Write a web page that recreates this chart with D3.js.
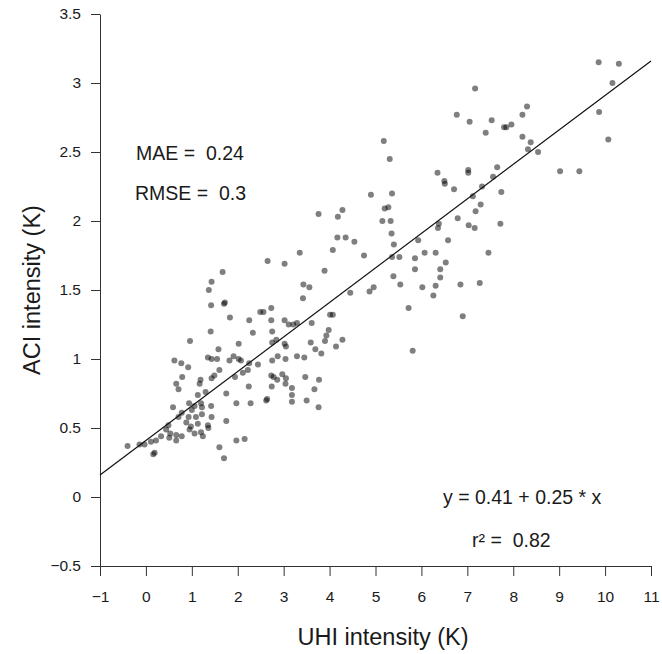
<!DOCTYPE html>
<html>
<head>
<meta charset="utf-8">
<script src="https://cdn.jsdelivr.net/npm/d3@7"></script>
<style>
  body { margin: 0; background: #fff; }
  svg text { font-family: "Liberation Sans", Arial, sans-serif; fill: #1a1a1a; }
  .axis path, .axis line { stroke: #333; stroke-width: 1; }
  .axis text { font-size: 15.5px; }
  .note { font-size: 19.5px; white-space: pre; }
  .title { font-size: 23.5px; }
</style>
</head>
<body>
<svg id="chart"></svg>
<script>
// UHI intensity (K)
var uhi = [
  // dense cluster, x < 1.5
  1.42, 1.41, 0.96, 0.62, 0.77, 0.92, 1.35, 1.43, 0.79, 1.19,
  1.17, 0.66, 0.71, 1.43, 1.30, 1.13, 0.59, 0.94, 1.06, 1.20,
  1.22, 1.42, 1.00, 0.78, 0.71, 0.93, 1.09, 1.22, 1.43, 0.88,
  0.98, 1.13, 1.35, 0.49, 0.44, 0.53, 0.66, 0.78, 0.95, 1.06,
  1.20, 1.24, 0.33, 0.22, 0.11, 0.66, 0.51, -0.14, -0.03, -0.40,
  0.19, 0.16, 1.36,
  // 1.5 - 3
  2.65, 3.02, 1.67, 1.43, 1.37, 1.70, 1.72, 1.83, 2.25, 2.49,
  2.56, 2.73, 2.73, 3.02, 2.33, 2.75, 2.75, 2.84, 3.02, 3.05,
  2.02, 1.58, 1.91, 2.02, 2.07, 1.82, 2.25, 2.44, 2.75, 2.87,
  3.04, 1.55, 1.60, 1.49, 1.94, 2.11, 2.22, 2.73, 2.78, 2.86,
  2.97, 3.05, 2.74, 3.04, 2.24, 1.75, 2.62, 2.64, 2.28, 1.97,
  1.75, 1.97, 2.15, 1.60, 1.70,
  // 3 - 4
  3.76, 4.07, 3.35, 3.89, 3.43, 3.56, 3.42, 3.11, 3.21, 3.29,
  3.61, 4.01, 4.07, 3.98, 3.93, 3.59, 3.69, 3.82, 3.45, 3.29,
  3.77, 3.67, 3.50, 3.76, 3.47, 3.18, 3.18, 3.18, 3.90,
  // 4 - 7
  5.18, 5.31, 6.35, 6.50, 6.51, 6.71, 4.90, 5.36, 5.20, 5.28,
  5.15, 5.33, 4.28, 4.18, 6.79, 5.35, 6.38, 6.36, 4.17, 4.35,
  4.54, 6.58, 5.93, 5.40, 4.75, 5.36, 5.52, 6.07, 6.31, 5.86,
  6.53, 6.41, 5.86, 6.41, 5.39, 5.54, 6.31, 6.02, 4.96, 4.87,
  4.45, 6.26, 5.72, 4.28, 4.14, 5.81,
  // > 7
  7.17, 6.77, 7.05, 7.53, 8.30, 8.20, 7.40, 7.80, 7.85, 7.96,
  8.20, 8.38, 8.32, 8.54, 9.02, 9.44, 7.02, 7.02, 7.65, 7.56,
  7.32, 7.74, 7.12, 7.29, 7.18, 7.03, 7.16, 7.72, 7.46, 6.85,
  7.27, 6.90, 9.86, 10.30, 10.16, 9.87, 10.07
];

// ACI intensity (K), same order as uhi
var aci = [
  1.39, 1.20, 1.13, 0.99, 0.97, 0.94, 1.01, 1.00, 0.87, 0.85,
  0.82, 0.82, 0.78, 0.86, 0.76, 0.74, 0.65, 0.68, 0.66, 0.68,
  0.65, 0.66, 0.63, 0.61, 0.58, 0.58, 0.58, 0.60, 0.58, 0.54,
  0.51, 0.53, 0.52, 0.52, 0.49, 0.46, 0.45, 0.44, 0.49, 0.46,
  0.47, 0.44, 0.44, 0.41, 0.40, 0.41, 0.43, 0.38, 0.38, 0.37,
  0.32, 0.31, 0.50,

  1.71, 1.69, 1.63, 1.56, 1.50, 1.40, 1.41, 1.30, 1.28, 1.34,
  1.34, 1.37, 1.28, 1.28, 1.19, 1.20, 1.12, 1.14, 1.11, 1.09,
  1.11, 1.07, 1.02, 1.00, 0.99, 0.99, 0.97, 0.96, 0.99, 1.02,
  1.00, 1.00, 0.92, 0.88, 0.87, 0.90, 0.92, 0.88, 0.87, 0.85,
  0.89, 0.86, 0.80, 0.82, 0.80, 0.75, 0.70, 0.71, 0.68, 0.68,
  0.55, 0.41, 0.42, 0.36, 0.28,

  2.05, 1.79, 1.77, 1.64, 1.54, 1.52, 1.44, 1.25, 1.25, 1.26,
  1.26, 1.32, 1.32, 1.21, 1.17, 1.12, 1.07, 1.04, 1.01, 1.02,
  0.85, 0.78, 0.70, 0.65, 0.87, 0.69, 0.74, 0.79, 1.13,

  2.58, 2.45, 2.35, 2.29, 2.27, 2.23, 2.19, 2.20, 2.09, 2.10,
  2.00, 2.00, 2.08, 2.03, 2.02, 1.91, 1.98, 1.95, 1.88, 1.88,
  1.85, 1.86, 1.86, 1.83, 1.75, 1.74, 1.74, 1.77, 1.77, 1.73,
  1.70, 1.65, 1.65, 1.59, 1.60, 1.54, 1.53, 1.52, 1.52, 1.49,
  1.48, 1.46, 1.37, 1.14, 1.09, 1.06,

  2.96, 2.77, 2.72, 2.73, 2.83, 2.77, 2.64, 2.68, 2.68, 2.70,
  2.61, 2.57, 2.52, 2.50, 2.36, 2.36, 2.37, 2.35, 2.39, 2.32,
  2.25, 2.21, 2.18, 2.12, 2.07, 1.97, 1.95, 1.98, 1.77, 1.54,
  1.55, 1.31, 3.15, 3.14, 3.00, 2.79, 2.59
];

var xTicks = [-1, 0, 1, 2, 3, 4, 5, 6, 7, 8, 9, 10, 11];
var yTicks = [-0.5, 0, 0.5, 1, 1.5, 2, 2.5, 3, 3.5];

var fitIntercept = 0.41;
var fitSlope = 0.25;

var notes = [
  { text: 'MAE =  0.24', x: 136, y: 160 },
  { text: 'RMSE =  0.3', x: 135, y: 200 },
  { text: 'y = 0.41 + 0.25 * x', x: 443, y: 504 },
  { text: 'r\u00b2 =  0.82', x: 472, y: 547 }
];

var width = 662, height = 654;
var plot = { left: 100, right: 651, top: 14, bottom: 566 };

var svg = d3.select('#chart')
    .attr('width', width)
    .attr('height', height);

var x = d3.scaleLinear().domain([-1, 11]).range([plot.left, plot.right]);
var y = d3.scaleLinear().domain([-0.5, 3.5]).range([plot.bottom, plot.top]);

// Axes
svg.append('g')
    .attr('class', 'axis')
    .attr('transform', 'translate(0,' + plot.bottom + ')')
    .call(d3.axisBottom(x)
        .tickValues(xTicks)
        .tickFormat(d3.format('d'))
        .tickSizeInner(10)
        .tickSizeOuter(0)
        .tickPadding(15));

svg.append('g')
    .attr('class', 'axis')
    .attr('transform', 'translate(' + plot.left + ',0)')
    .call(d3.axisLeft(y)
        .tickValues(yTicks)
        .tickFormat(d3.format(''))
        .tickSizeInner(9)
        .tickSizeOuter(0)
        .tickPadding(10));

svg.selectAll('.axis .domain').attr('stroke', '#333');

// Points
var points = uhi.map(function (d, i) {
    return { uhi: d, aci: aci[i] };
});

svg.append('g')
    .selectAll('circle')
    .data(points)
    .enter()
    .append('circle')
    .attr('cx', function (d) { return x(d.uhi); })
    .attr('cy', function (d) { return y(d.aci); })
    .attr('r', 3)
    .attr('fill', '#000')
    .attr('fill-opacity', 0.5);

// Fit line
var fitLine = d3.line()
    .x(function (d) { return x(d); })
    .y(function (d) { return y(fitIntercept + fitSlope * d); });

svg.append('path')
    .datum(x.domain())
    .attr('d', fitLine)
    .attr('fill', 'none')
    .attr('stroke', '#111')
    .attr('stroke-width', 1.2);

// Notes
svg.selectAll('.note')
    .data(notes)
    .enter()
    .append('text')
    .attr('class', 'note')
    .attr('x', function (d) { return d.x; })
    .attr('y', function (d) { return d.y; })
    .text(function (d) { return d.text; });

// Axis titles
svg.append('text')
    .attr('class', 'title')
    .attr('x', 383)
    .attr('y', 645)
    .attr('text-anchor', 'middle')
    .text('UHI intensity (K)');

svg.append('text')
    .attr('class', 'title')
    .attr('transform', 'translate(40,290) rotate(-90)')
    .attr('text-anchor', 'middle')
    .text('ACI intensity (K)');
</script>
</body>
</html>
